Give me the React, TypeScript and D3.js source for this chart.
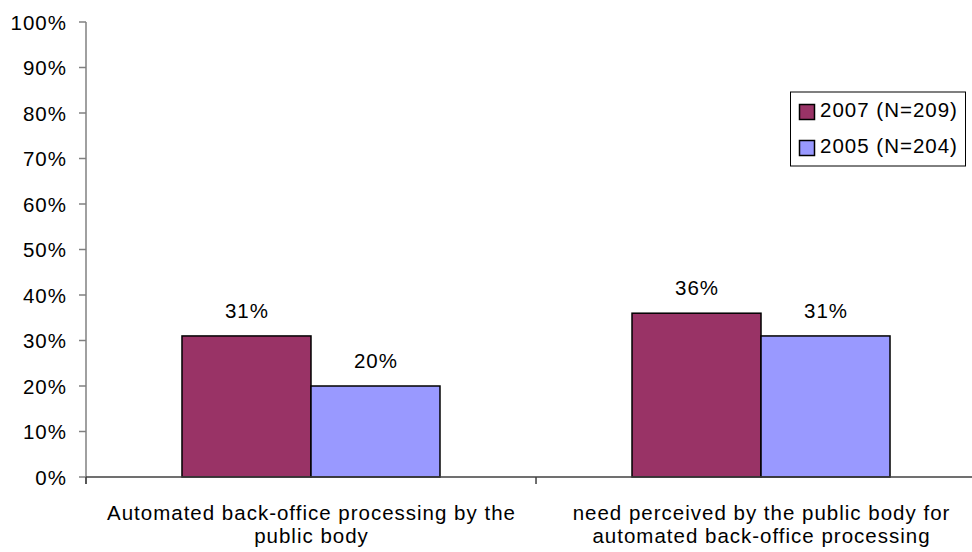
import React from "react";
import * as d3 from "d3";

const categories = [
  ["Automated back-office processing by the", "public body"],
  ["need perceived by the public body for", "automated back-office processing"],
];
const seriesNames = ["2007 (N=209)", "2005 (N=204)"];
const values2007 = [31, 36];
const values2005 = [20, 31];
const yTicks = [0, 10, 20, 30, 40, 50, 60, 70, 80, 90, 100];
const colors = ["#993366", "#9999FF"];

const W = 972;
const H = 552;
const FONT = "Liberation Sans, Arial, sans-serif";
const FS = 20.5;
const LS = 1;

export default function App() {
  const catKeys = categories.map((c) => c.join(" "));
  const x0 = d3
    .scaleBand<string>()
    .domain(catKeys)
    .range([86, 986])
    .paddingInner(0.4267)
    .paddingOuter(0.2133);
  const x1 = d3
    .scaleBand<string>()
    .domain(seriesNames)
    .range([0, x0.bandwidth()]);
  const y = d3.scaleLinear().domain([0, 100]).range([477, 22]);
  const series = [values2007, values2005];
  const step = x0.step();

  return (
    <svg
      width={W}
      height={H}
      style={{ position: "absolute", left: 0, top: 0, background: "#fff" }}
      fontFamily={FONT}
      letterSpacing={LS}
    >
      <rect x={0} y={0} width={W} height={H} fill="#fff" />
      {/* y axis */}
      <line x1={86} x2={86} y1={y(100)} y2={484} stroke="#808080" strokeWidth={1.5} />
      {yTicks.map((t) => (
        <g key={t}>
          <line x1={79} x2={86} y1={y(t)} y2={y(t)} stroke="#808080" strokeWidth={1.5} />
          <text
            x={67}
            y={y(t)}
            textAnchor="end"
            dominantBaseline="central"
            fontSize={FS}
            fill="#000"
          >
            {t}%
          </text>
        </g>
      ))}
      {/* bars */}
      {catKeys.map((c, ci) => (
        <g key={c} transform={`translate(${x0(c)},0)`}>
          {seriesNames.map((s, si) => {
            const v = series[si][ci];
            return (
              <g key={s}>
                <rect
                  x={x1(s)}
                  y={y(v)}
                  width={x1.bandwidth()}
                  height={y(0) - y(v)}
                  fill={colors[si]}
                  stroke="#000"
                  strokeWidth={1.5}
                />
                <text
                  x={(x1(s) as number) + x1.bandwidth() / 2 + LS / 2}
                  y={y(v) - 18}
                  textAnchor="middle"
                  fontSize={FS}
                  fill="#000"
                >
                  {v}%
                </text>
              </g>
            );
          })}
        </g>
      ))}
      {/* x axis */}
      <line x1={86} x2={986} y1={y(0)} y2={y(0)} stroke="#404040" strokeWidth={1.5} />
      {[0, 1, 2].map((i) => (
        <line
          key={i}
          x1={86 + i * step}
          x2={86 + i * step}
          y1={y(0)}
          y2={484}
          stroke="#404040"
          strokeWidth={1.5}
        />
      ))}
      {categories.map((lines, ci) => {
        const cx = (x0(catKeys[ci]) as number) + x0.bandwidth() / 2 + LS / 2;
        return (
          <text key={ci} x={cx} textAnchor="middle" fontSize={FS} fill="#000">
            {lines.map((l, li) => (
              <tspan key={li} x={cx} y={520 + li * 23}>
                {l}
              </tspan>
            ))}
          </text>
        );
      })}
      {/* legend */}
      <rect x={790.5} y={92} width={175} height={74} fill="#fff" stroke="#000" strokeWidth={1} />
      {seriesNames.map((s, si) => (
        <g key={s}>
          <rect
            x={799.5}
            y={104.5 + si * 36}
            width={15}
            height={15}
            fill={colors[si]}
            stroke="#000"
            strokeWidth={1.5}
          />
          <text x={820} y={117 + si * 36} fontSize={FS} fill="#000">
            {s}
          </text>
        </g>
      ))}
    </svg>
  );
}
